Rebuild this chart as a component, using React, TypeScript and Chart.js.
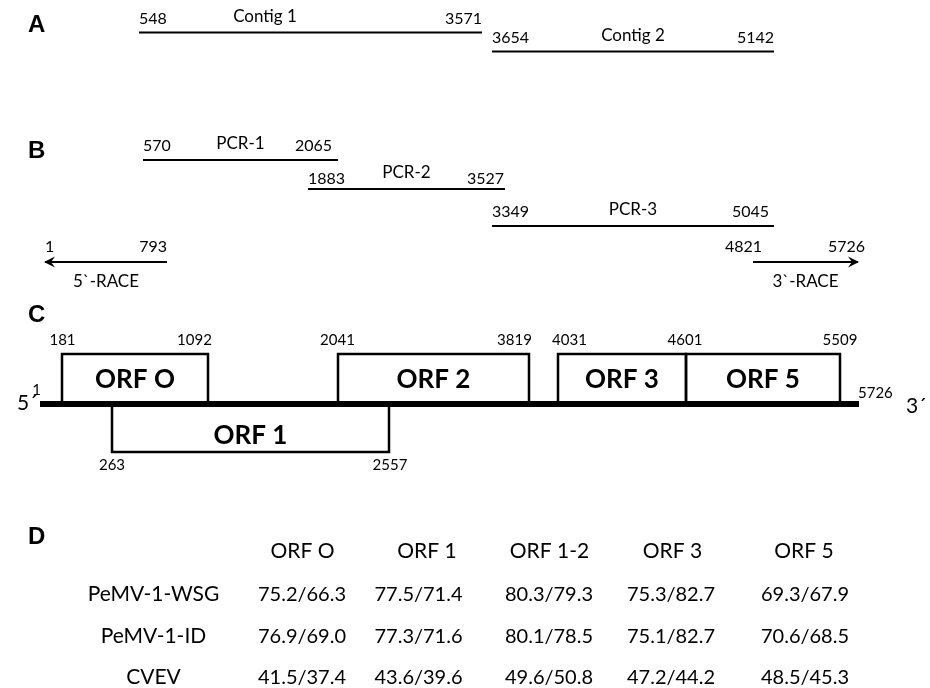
import React, { useEffect, useRef } from 'react';
import { Chart, registerables } from 'chart.js';

Chart.register(...registerables);

const W = 930;
const H = 688;

// ---------- Panel A: contigs (nucleotide coordinates) ----------
const contigNames = ['Contig 1', 'Contig 2'];
const contigStartNt = [548, 3654];
const contigEndNt = [3571, 5142];
// diagram positions (figure is not drawn to scale)
const contigFrom = [139, 492];
const contigTo = [482, 774];
const contigRow = [32.5, 51.5];
const contigNameX = [265, 633];

// ---------- Panel B: RT-PCR products ----------
const pcrNames = ['PCR-1', 'PCR-2', 'PCR-3'];
const pcrStartNt = [570, 1883, 3349];
const pcrEndNt = [2065, 3527, 5045];
const pcrFrom = [143, 308, 492];
const pcrTo = [338, 505, 774];
const pcrRow = [160, 189, 226];
const pcrEndLabelX = [332, 504, 769];
const pcrNumLift = [9, 5, 9];

// ---------- Panel B: RACE ----------
const raceNames = ['5`-RACE', '3`-RACE'];
const raceStartNt = [1, 4821];
const raceEndNt = [793, 5726];
const raceFrom = [45, 753];
const raceTo = [167, 858];
const raceRow = [262, 262];
const raceDir = [-1, 1];
const raceStartLabelX = [45, 725];
const raceEndLabelX = [167, 865];

// ---------- Panel C: genome organisation ----------
const genomeStartNt = 1;
const genomeEndNt = 5726;
const genomeFrom = 40;
const genomeTo = 859;
const genomeRow = 404;

const orfNames = ['ORF O', 'ORF 1', 'ORF 2', 'ORF 3', 'ORF 5'];
const orfStartNt = [181, 263, 2041, 4031, 4601];
const orfEndNt = [1092, 2557, 3819, 4601, 5509];
const orfFrom = [62, 112, 338, 558, 686];
const orfTo = [208, 389, 529, 686, 840];
const orfSide = [1, -1, 1, 1, 1]; // 1 = above genome line, -1 = below
const orfStartLabelX = [62.5, 112, 337.5, 569.5, 685];
const orfEndLabelX = [194.5, 390, 514.5, 685, 840];

// ---------- Panel D: identity table (nt / aa %) ----------
const tableCols = ['ORF O', 'ORF 1', 'ORF 1-2', 'ORF 3', 'ORF 5'];
const tableRows = ['PeMV-1-WSG', 'PeMV-1-ID', 'CVEV'];
const wsgNt = [75.2, 77.5, 80.3, 75.3, 69.3];
const wsgAa = [66.3, 71.4, 79.3, 82.7, 67.9];
const idNt = [76.9, 77.3, 80.1, 75.1, 70.6];
const idAa = [69.0, 71.6, 78.5, 82.7, 68.5];
const cvevNt = [41.5, 43.6, 49.6, 47.2, 48.5];
const cvevAa = [37.4, 39.6, 50.8, 44.2, 45.3];
const tableHeadX = [302.5, 427, 549.5, 672.5, 804];
const tableValX = [302, 418.5, 549, 671, 805];
const tableLabelX = 153.5;
const tableHeadRow = 558;
const tableRowY = [601, 643, 684];

const panelLetters = ['A', 'B', 'C', 'D'];
const panelLetterY = [32, 158, 322, 544];

const FONT = 'Lato, "Open Sans", sans-serif';

function lineDs(points: { x: number; y: number }[], width: number) {
  return {
    data: points,
    showLine: true,
    borderColor: '#000',
    backgroundColor: '#000',
    borderWidth: width,
    pointRadius: 0,
    pointHoverRadius: 0,
    tension: 0,
    fill: false,
    borderCapStyle: 'butt',
    borderJoinStyle: 'miter',
    clip: false,
  } as any;
}

export default function App() {
  const ref = useRef<HTMLCanvasElement>(null);

  useEffect(() => {
    if (!ref.current) return;
    const datasets: any[] = [];

    contigFrom.forEach((f, i) =>
      datasets.push(lineDs([{ x: f, y: contigRow[i] }, { x: contigTo[i], y: contigRow[i] }], 2.2))
    );
    pcrFrom.forEach((f, i) =>
      datasets.push(lineDs([{ x: f, y: pcrRow[i] }, { x: pcrTo[i], y: pcrRow[i] }], 2.2))
    );
    raceFrom.forEach((f, i) =>
      datasets.push(lineDs([{ x: f, y: raceRow[i] }, { x: raceTo[i], y: raceRow[i] }], 2.2))
    );
    datasets.push(lineDs([{ x: genomeFrom, y: genomeRow }, { x: genomeTo, y: genomeRow }], 6));

    const boxAbove = 50;
    const boxBelow = 48;
    orfFrom.forEach((f, i) => {
      const t = orfTo[i];
      const yEdge = orfSide[i] > 0 ? genomeRow - boxAbove : genomeRow + boxBelow;
      datasets.push(
        lineDs(
          [
            { x: f, y: genomeRow },
            { x: f, y: yEdge },
            { x: t, y: yEdge },
            { x: t, y: genomeRow },
          ],
          2.5
        )
      );
    });

    const textPlugin = {
      id: 'diagramText',
      afterDatasetsDraw(chart: any) {
        const ctx: CanvasRenderingContext2D = chart.ctx;
        const xs = chart.scales.x;
        const ys = chart.scales.y;
        const px = (v: number) => xs.getPixelForValue(v);
        const py = (v: number) => ys.getPixelForValue(v);
        const txt = (s: string, x: number, y: number, font: string, align: CanvasTextAlign = 'left') => {
          ctx.font = font;
          ctx.textAlign = align;
          ctx.textBaseline = 'alphabetic';
          ctx.fillStyle = '#000';
          ctx.fillText(s, px(x), py(y));
        };
        ctx.save();

        // panel letters
        panelLetters.forEach((l, i) => txt(l, 28, panelLetterY[i], 'bold 24px "Liberation Sans", Arial, sans-serif'));

        const numF = `16px ${FONT}`;
        const nameF = `17px ${FONT}`;
        // contigs
        contigNames.forEach((n, i) => {
          const r = contigRow[i];
          txt(String(contigStartNt[i]), contigFrom[i], r - 8.5, numF, 'left');
          txt(String(contigEndNt[i]), contigTo[i], r - 8.5, numF, 'right');
          txt(n, contigNameX[i], r - 11, nameF, 'center');
        });
        // PCR
        pcrNames.forEach((n, i) => {
          const r = pcrRow[i];
          txt(String(pcrStartNt[i]), pcrFrom[i], r - pcrNumLift[i], numF, 'left');
          txt(String(pcrEndNt[i]), pcrEndLabelX[i], r - pcrNumLift[i], numF, 'right');
          txt(n, (pcrFrom[i] + pcrTo[i]) / 2, r - 11, nameF, 'center');
        });
        // RACE
        raceNames.forEach((n, i) => {
          const r = raceRow[i];
          txt(String(raceStartNt[i]), raceStartLabelX[i], r - 10, numF, 'left');
          txt(String(raceEndNt[i]), raceEndLabelX[i], r - 10, numF, 'right');
          txt(n, (raceFrom[i] + raceTo[i]) / 2, r + 25, nameF, 'center');
          // arrow head
          const tipX = px(raceDir[i] < 0 ? raceFrom[i] : raceTo[i]);
          const y = py(r);
          const d = raceDir[i];
          ctx.beginPath();
          ctx.moveTo(tipX + d * 1, y);
          ctx.lineTo(tipX - d * 10, y - 5.5);
          ctx.lineTo(tipX - d * 6, y);
          ctx.lineTo(tipX - d * 10, y + 5.5);
          ctx.closePath();
          ctx.fillStyle = '#000';
          ctx.fill();
        });

        // genome
        const cNum = `15px ${FONT}`;
        txt(String(genomeStartNt), genomeFrom + 1, genomeRow - 9, cNum, 'right');
        txt(String(genomeEndNt), genomeTo - 1, genomeRow - 6, cNum, 'left');
        txt('5\u00B4', 17, genomeRow + 6, `21px ${FONT}`, 'left');
        txt('3\u00B4', 906, genomeRow + 9, `21px ${FONT}`, 'left');

        const drawn = new Set<string>();
        orfNames.forEach((n, i) => {
          const above = orfSide[i] > 0;
          const numY = above ? 345 : 470;
          const a = `${orfStartNt[i]}@${orfStartLabelX[i]}`;
          const b = `${orfEndNt[i]}@${orfEndLabelX[i]}`;
          if (!drawn.has(a)) {
            txt(String(orfStartNt[i]), orfStartLabelX[i], numY, cNum, 'center');
            drawn.add(a);
          }
          if (!drawn.has(b)) {
            txt(String(orfEndNt[i]), orfEndLabelX[i], numY, cNum, 'center');
            drawn.add(b);
          }
          txt(n, (orfFrom[i] + orfTo[i]) / 2, above ? 388 : 444, `bold 26px ${FONT}`, 'center');
        });

        // table
        const headF = `21px ${FONT}`;
        const valF = `20px ${FONT}`;
        tableCols.forEach((c, j) => txt(c, tableHeadX[j], tableHeadRow, headF, 'center'));
        const nt = [wsgNt, idNt, cvevNt];
        const aa = [wsgAa, idAa, cvevAa];
        tableRows.forEach((r, i) => {
          txt(r, tableLabelX, tableRowY[i], headF, 'center');
          nt[i].forEach((v, j) => {
            txt(`${v.toFixed(1)}/${aa[i][j].toFixed(1)}`, tableValX[j], tableRowY[i], valF, 'center');
          });
        });

        ctx.restore();
      },
    };

    const chart = new Chart(ref.current, {
      type: 'scatter',
      data: { datasets },
      options: {
        responsive: false,
        animation: false,
        events: [],
        layout: { padding: 0 },
        plugins: { legend: { display: false }, tooltip: { enabled: false }, title: { display: false } },
        scales: {
          x: { type: 'linear', min: 0, max: W, display: false },
          y: { type: 'linear', min: 0, max: H, reverse: true, display: false },
        },
      },
      plugins: [textPlugin],
    } as any);

    return () => chart.destroy();
  }, []);

  return (
    <div style={{ position: 'absolute', left: 0, top: 0, width: W, height: H, background: '#fff' }}>
      <canvas ref={ref} width={W} height={H} style={{ display: 'block' }} />
    </div>
  );
}
